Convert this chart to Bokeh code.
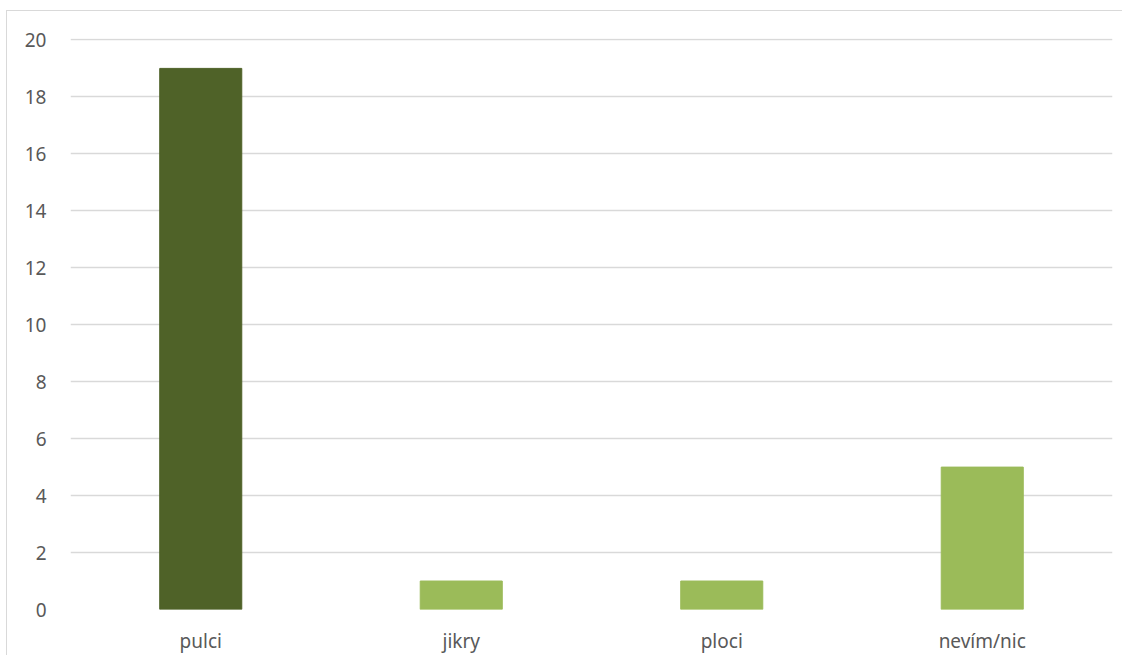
from bokeh.plotting import figure
from bokeh.models import ColumnDataSource, FixedTicker, Range1d
from bokeh.embed import file_html
from bokeh.resources import INLINE

categories = ["pulci", "jikry", "ploci", "nevím/nic"]
values = [19, 1, 1, 5]
y_ticks = [0, 2, 4, 6, 8, 10, 12, 14, 16, 18, 20]

bar_colors = ["#4F6228", "#9BBB59", "#9BBB59", "#9BBB59"]

src = ColumnDataSource(dict(cat=categories, val=values, color=bar_colors))

p = figure(x_range=categories, y_range=Range1d(0, 20.05), width=1116, height=645,
           output_backend="svg", toolbar_location=None,
           min_border_left=63, min_border_right=11, min_border_top=27, min_border_bottom=47)
p.vbar(x="cat", top="val", width=0.315, color="color", source=src)

p.outline_line_color = None
p.background_fill_color = "white"
p.border_fill_color = "white"
p.xgrid.grid_line_color = None
p.ygrid.grid_line_color = "#d9d9d9"
p.ygrid.grid_line_width = 1.3
p.yaxis.ticker = FixedTicker(ticks=y_ticks)
p.ygrid.ticker = FixedTicker(ticks=y_ticks)
p.x_range.range_padding = 0

for ax in (p.xaxis, p.yaxis):
    ax.axis_line_color = None
    ax.major_tick_line_color = None
    ax.minor_tick_line_color = None
    ax.major_label_text_font = "Noto Sans"
    ax.major_label_text_font_size = "19px"
    ax.major_label_text_color = "#595959"
p.yaxis.major_label_standoff = 18
p.xaxis.major_label_standoff = 12
p.styles = {"border-top": "1px solid #d9d9d9", "border-left": "1px solid #d9d9d9",
            "margin-left": "6px", "margin-top": "10px"}

open("out.html", "w").write(file_html(p, INLINE))
